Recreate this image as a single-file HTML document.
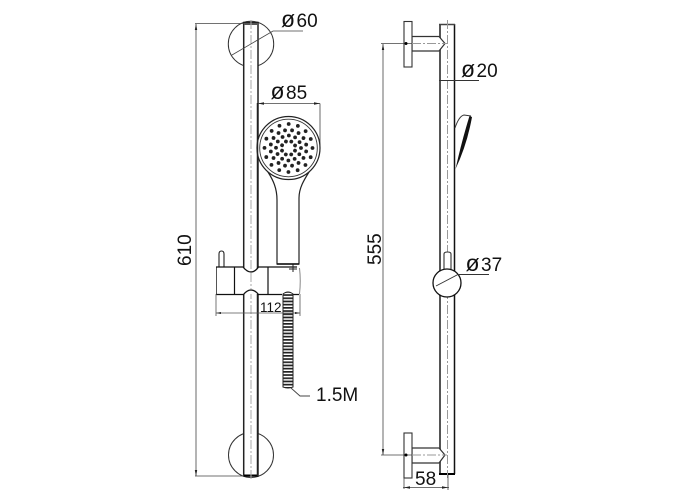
<!DOCTYPE html>
<html>
<head>
<meta charset="utf-8">
<style>
html,body{margin:0;padding:0;background:#fff}
svg{display:block}
text{font-family:"Liberation Sans",sans-serif;fill:#111;font-size:19px}
text.p{font-size:23px}
</style>
</head>
<body>
<svg width="700" height="500" viewBox="0 0 700 500" xmlns="http://www.w3.org/2000/svg">
<defs>
<pattern id="coil" width="10" height="3.2" patternUnits="userSpaceOnUse" x="283" y="291">
<rect width="10" height="1.7" fill="#222"/>
</pattern>
</defs>

<!-- LEFT VIEW -->
<g fill="none" stroke="#333" stroke-width="1">
<circle cx="251" cy="44" r="22.7" fill="#fff"/>
<circle cx="251" cy="455" r="22.5" fill="#fff"/>
</g>
<rect x="243.700" y="22.500" width="14.300" height="453.500" fill="#fff" stroke="#222" stroke-width="1.500"/>
<line x1="244" y1="24" x2="258" y2="24" stroke="#555" stroke-width="2"/>
<line x1="244" y1="475.500" x2="258" y2="475.500" stroke="#000" stroke-width="2"/>
<line x1="251" y1="20" x2="251" y2="480" stroke="#aaa" stroke-width="1" stroke-dasharray="9 2 2 2"/>

<!-- dim 610 -->
<g stroke="#444" stroke-width="0.8" fill="none">
<path d="M195 23.500H244M196 24V476M195 476H244"/>
<path d="M232 55L273 31H303"/>
<path d="M257 103.500H320M320 103.500V145"/>
</g>
<path d="M196 24l-1.200 6h2.400zM196 476l-1.200 -6h2.400z" fill="#222"/>
<path d="M258 103.500l6 -1.200v2.400zM320 103.500l-6 -1.200v2.400z" fill="#222"/>
<text transform="translate(191,266) rotate(-90)">610</text>
<text class="p" x="281" y="27">ø</text><text x="296.500" y="27">60</text>
<text class="p" x="270.500" y="99">ø</text><text x="286" y="99">85</text>

<!-- shower head -->
<path d="M277 264V200C277 188 273 180 268 172H309C304 180 299 188 299 198V264Z" fill="#fff" stroke="#222" stroke-width="1.200"/>
<circle cx="288.500" cy="148" r="31.500" fill="#fff" stroke="#222" stroke-width="1.200"/>
<circle cx="288.500" cy="148" r="28.800" fill="none" stroke="#333" stroke-width="0.900"/>
<g fill="none" stroke="#222" stroke-width="3.800" stroke-linecap="round">
<circle cx="288.500" cy="148" r="24" stroke-dasharray="0 9.425"/>
<circle cx="288.500" cy="148" r="18" stroke-dasharray="0 7.069" transform="rotate(11 288.500 148)"/>
<circle cx="288.500" cy="148" r="12.500" stroke-dasharray="0 6.545"/>
<circle cx="288.500" cy="148" r="7" stroke-dasharray="0 5.498" transform="rotate(22 288.500 148)"/>
</g>
<line x1="257.500" y1="103" x2="257.500" y2="476" stroke="#222" stroke-width="1.500"/>

<!-- bracket -->
<path d="M219 267V254Q219 251 221.500 251Q224 251 224 254V267" fill="#fff" stroke="#222" stroke-width="1.100"/>
<path d="M216 267H243Q247 272 251 272Q255 272 258.500 267H299Q301 280 299 294H216Z" fill="#fff" stroke="none"/>
<path d="M216.500 294V267" fill="none" stroke="#555" stroke-width="1"/>
<path d="M299.500 268Q301 281 299.500 294" fill="none" stroke="#888" stroke-width="1"/>
<path d="M216 267H243Q247 272 251 272Q255 272 258.500 267H297" fill="none" stroke="#111" stroke-width="1.300"/>
<path d="M216 294.500H243.500Q247 290 251 290Q255 290 258.500 294.500H282M293 294.500H299" fill="none" stroke="#111" stroke-width="1.300"/>
<path d="M234.500 267V294M268 267V294" stroke="#111" stroke-width="1.200" fill="none"/>
<path d="M293 264V272M289 269H297" stroke="#222" stroke-width="1" fill="none"/>
<path d="M277 264H299" stroke="#111" stroke-width="1.500" fill="none"/>
<line x1="251" y1="273" x2="251" y2="289" stroke="#aaa" stroke-width="1" stroke-dasharray="9 2 2 2"/>

<!-- hose -->
<path d="M283 387V294Q288 290 293 294V387Q288 389 283 387Z" fill="url(#coil)" stroke="#222" stroke-width="1"/>
<path d="M291 388L300 396H310" fill="none" stroke="#444" stroke-width="0.900"/>
<text x="316" y="401">1.5M</text>

<!-- dim 112 -->
<g stroke="#555" stroke-width="0.800" fill="none">
<path d="M216 294V316M300 294V316M216 313H300"/>
</g>
<path d="M216 313l5 -1v2zM300 313l-5 -1v2z" fill="#222"/>
<rect x="259" y="300" width="23" height="12" fill="#fff"/>
<text x="260" y="312" style="font-size:13.500px">112</text>

<!-- RIGHT VIEW -->
<rect x="440" y="24" width="14.500" height="450" fill="#fff"/>
<line x1="440" y1="24" x2="440" y2="474" stroke="#555" stroke-width="2"/>
<line x1="454.500" y1="24" x2="454.500" y2="474" stroke="#111" stroke-width="1.500"/>
<line x1="439" y1="24.500" x2="455" y2="24.500" stroke="#444" stroke-width="1.500"/>
<line x1="439" y1="474" x2="455" y2="474" stroke="#000" stroke-width="2"/>
<line x1="447.500" y1="20" x2="447.500" y2="478" stroke="#999" stroke-width="1" stroke-dasharray="9 2 2 2"/>

<!-- flanges/arms -->
<path d="M412 36.500H439L445 43.500L439 51H412Z" fill="#fff" stroke="#333" stroke-width="1.200"/>
<path d="M412 448H439L445 455L439 463H412Z" fill="#fff" stroke="#333" stroke-width="1.200"/>
<rect x="404" y="21.500" width="8" height="45.500" fill="#fff" stroke="#333" stroke-width="1.100"/>
<rect x="404" y="433" width="8" height="45" fill="#fff" stroke="#333" stroke-width="1.100"/>

<!-- dim 555 -->
<g stroke="#444" stroke-width="0.800" fill="none">
<path d="M381 43.500H412M383 44V455M381 455H412"/>
</g>
<path d="M412 43.500H447M412 455H447" stroke="#999" stroke-width="1" stroke-dasharray="9 2 2 2" fill="none"/>
<path d="M383 44l-1.200 6h2.400zM383 455l-1.200 -6h2.400z" fill="#222"/>
<circle cx="406" cy="43.500" r="1.500" fill="#000"/>
<circle cx="406" cy="455" r="1.500" fill="#000"/>
<text transform="translate(381,265) rotate(-90)">555</text>

<!-- dim 20 -->
<path d="M439 80.500H479" stroke="#333" stroke-width="0.900" fill="none"/>
<text class="p" x="461" y="77">ø</text><text x="476.500" y="77">20</text>

<!-- side head -->
<path d="M455 128Q459 116 464 115L471 116" fill="none" stroke="#333" stroke-width="0.900"/>
<path d="M469.500 116L472 117Q467 145 455.500 169Q462 140 469.500 116Z" fill="#111"/>

<!-- knob -->
<path d="M444 270V254Q444 252 447.500 252Q451 252 451 254V270" fill="#fff" stroke="#333" stroke-width="1.100"/>
<circle cx="447" cy="283" r="14" fill="#fff" stroke="#111" stroke-width="1.300"/>
<path d="M436 286L458 274.500H489" fill="none" stroke="#333" stroke-width="0.900"/>
<text class="p" x="465.500" y="271">ø</text><text x="481" y="271">37</text>

<!-- dim 58 -->
<g stroke="#444" stroke-width="0.800" fill="none">
<path d="M404 478V489M448 475V490M403 487.500H449"/>
</g>
<path d="M404 487.500l6 -1.200v2.400zM448 487.500l-6 -1.200v2.400z" fill="#222"/>
<text x="415" y="485">58</text>
</svg>
</body>
</html>
